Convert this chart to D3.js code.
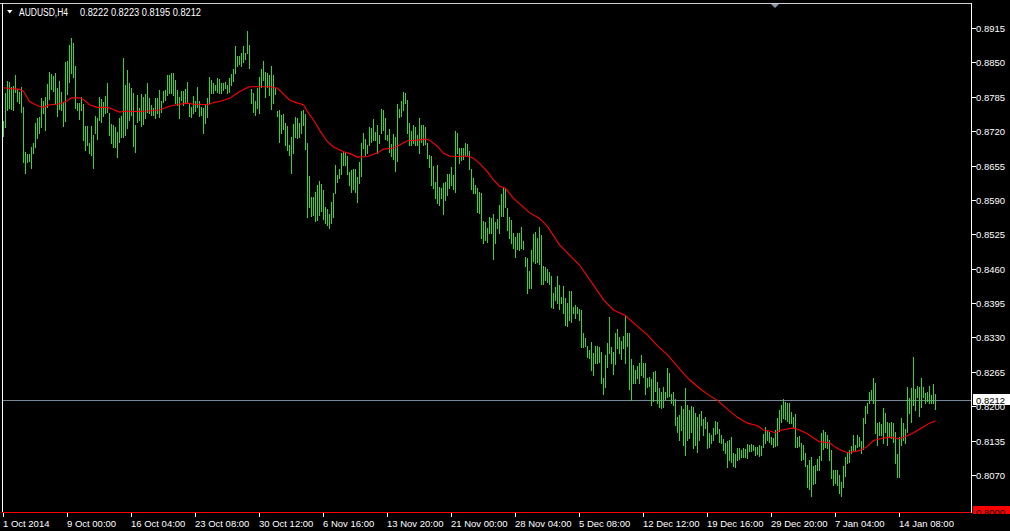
<!DOCTYPE html>
<html><head><meta charset="utf-8">
<script src="https://cdn.jsdelivr.net/npm/d3@7/dist/d3.min.js"></script>
<style>html,body{margin:0;padding:0;background:#000;overflow:hidden}svg{display:block}</style>
</head><body><svg id="c" width="1010" height="531"></svg>
<script>
// ---------------- data ----------------
const symbol = "AUDUSD,H4";
const lastOHLC = [0.8222, 0.8223, 0.8195, 0.8212];
const bottomPrice = 0.8000;
const topPrice = 0.89623;

const highs = [
0.8739,0.8792,0.8815,0.8813,0.8804,0.8806,0.8826,0.8800,0.8794,0.8804,
0.8766,0.8681,0.8677,0.8677,0.8690,0.8698,0.8736,0.8745,0.8747,0.8783,
0.8777,0.8785,0.8809,0.8832,0.8828,0.8824,0.8830,0.8802,0.8815,0.8794,
0.8775,0.8851,0.8853,0.8883,0.8896,0.8887,0.8843,0.8773,0.8773,0.8785,
0.8771,0.8730,0.8730,0.8698,0.8730,0.8713,0.8749,0.8745,0.8785,0.8781,
0.8775,0.8787,0.8811,0.8754,0.8734,0.8732,0.8728,0.8719,0.8745,0.8749,
0.8858,0.8807,0.8836,0.8811,0.8802,0.8792,0.8732,0.8788,0.8764,0.8790,
0.8785,0.8790,0.8811,0.8783,0.8770,0.8764,0.8783,0.8783,0.8798,0.8777,
0.8796,0.8798,0.8826,0.8826,0.8830,0.8830,0.8817,0.8798,0.8785,0.8796,
0.8796,0.8800,0.8813,0.8771,0.8766,0.8787,0.8777,0.8804,0.8777,0.8766,
0.8764,0.8771,0.8783,0.8822,0.8817,0.8811,0.8807,0.8821,0.8819,0.8811,
0.8811,0.8812,0.8807,0.8821,0.8828,0.8838,0.8881,0.8862,0.8862,0.8868,
0.8881,0.8868,0.8909,0.8883,0.8800,0.8792,0.8777,0.8802,0.8822,0.8838,
0.8853,0.8832,0.8830,0.8826,0.8843,0.8826,0.8802,0.8758,0.8760,0.8751,
0.8753,0.8736,0.8730,0.8694,0.8709,0.8734,0.8747,0.8745,0.8736,0.8758,
0.8760,0.8753,0.8698,0.8635,0.8596,0.8596,0.8605,0.8618,0.8626,0.8620,
0.8609,0.8577,0.8573,0.8564,0.8586,0.8603,0.8656,0.8637,0.8649,0.8679,
0.8681,0.8679,0.8673,0.8643,0.8647,0.8649,0.8649,0.8633,0.8662,0.8698,
0.8717,0.8705,0.8694,0.8728,0.8726,0.8743,0.8719,0.8732,0.8713,0.8762,
0.8760,0.8745,0.8713,0.8724,0.8696,0.8715,0.8709,0.8771,0.8762,0.8777,
0.8794,0.8792,0.8779,0.8736,0.8720,0.8732,0.8728,0.8713,0.8745,0.8732,
0.8732,0.8728,0.8698,0.8675,0.8673,0.8654,0.8624,0.8656,0.8615,0.8613,
0.8622,0.8624,0.8639,0.8639,0.8652,0.8637,0.8720,0.8717,0.8688,0.8688,
0.8688,0.8698,0.8696,0.8683,0.8649,0.8632,0.8618,0.8613,0.8605,0.8603,
0.8550,0.8548,0.8537,0.8558,0.8556,0.8564,0.8548,0.8554,0.8581,0.8601,
0.8613,0.8611,0.8575,0.8558,0.8552,0.8528,0.8520,0.8528,0.8528,0.8539,
0.8512,0.8482,0.8480,0.8456,0.8496,0.8526,0.8530,0.8518,0.8539,0.8524,
0.8465,0.8463,0.8460,0.8454,0.8446,0.8414,0.8426,0.8446,0.8429,0.8407,
0.8427,0.8405,0.8395,0.8418,0.8418,0.8388,0.8392,0.8388,0.8384,0.8382,
0.8339,0.8329,0.8314,0.8307,0.8322,0.8301,0.8314,0.8314,0.8312,0.8303,
0.8254,0.8297,0.8320,0.8369,0.8312,0.8303,0.8339,0.8346,0.8331,0.8323,
0.8333,0.8373,0.8339,0.8339,0.8290,0.8278,0.8269,0.8276,0.8282,0.8297,
0.8282,0.8282,0.8254,0.8256,0.8252,0.8265,0.8267,0.8246,0.8235,0.8227,
0.8237,0.8227,0.8272,0.8263,0.8223,0.8227,0.8214,0.8180,0.8184,0.8201,
0.8195,0.8235,0.8203,0.8193,0.8201,0.8199,0.8187,0.8180,0.8186,0.8191,
0.8176,0.8180,0.8170,0.8150,0.8146,0.8159,0.8172,0.8170,0.8157,0.8146,
0.8138,0.8131,0.8135,0.8136,0.8142,0.8112,0.8110,0.8121,0.8121,0.8118,
0.8121,0.8119,0.8129,0.8127,0.8129,0.8127,0.8123,0.8123,0.8127,0.8125,
0.8148,0.8161,0.8153,0.8152,0.8142,0.8140,0.8155,0.8178,0.8193,0.8203,
0.8214,0.8208,0.8206,0.8206,0.8189,0.8180,0.8186,0.8142,0.8144,0.8131,
0.8127,0.8112,0.8089,0.8099,0.8104,0.8087,0.8089,0.8100,0.8106,0.8150,
0.8155,0.8152,0.8146,0.8136,0.8118,0.8080,0.8080,0.8080,0.8070,0.8057,
0.8087,0.8104,0.8114,0.8118,0.8125,0.8146,0.8127,0.8146,0.8142,0.8135,
0.8178,0.8201,0.8206,0.8227,0.8231,0.8254,0.8244,0.8169,0.8170,0.8167,
0.8197,0.8187,0.8170,0.8169,0.8170,0.8169,0.8152,0.8110,0.8142,0.8178,
0.8169,0.8157,0.8237,0.8216,0.8235,0.8293,0.8233,0.8238,0.8237,0.8254,
0.8237,0.8225,0.8227,0.8238,0.8221,0.8242,0.8223];

const lows = [
0.8711,0.8728,0.8760,0.8764,0.8762,0.8760,0.8794,0.8777,0.8773,0.8756,
0.8662,0.8641,0.8662,0.8664,0.8650,0.8679,0.8690,0.8707,0.8717,0.8728,
0.8754,0.8722,0.8766,0.8781,0.8800,0.8796,0.8773,0.8749,0.8762,0.8760,
0.8730,0.8739,0.8790,0.8813,0.8830,0.8822,0.8764,0.8760,0.8743,0.8760,
0.8703,0.8684,0.8694,0.8679,0.8675,0.8650,0.8717,0.8705,0.8741,0.8737,
0.8749,0.8754,0.8756,0.8713,0.8698,0.8690,0.8690,0.8671,0.8700,0.8709,
0.8709,0.8713,0.8726,0.8741,0.8751,0.8692,0.8681,0.8737,0.8741,0.8730,
0.8734,0.8745,0.8756,0.8754,0.8751,0.8751,0.8745,0.8754,0.8747,0.8756,
0.8775,0.8779,0.8788,0.8792,0.8792,0.8788,0.8773,0.8770,0.8745,0.8779,
0.8770,0.8773,0.8775,0.8749,0.8747,0.8754,0.8758,0.8766,0.8749,0.8751,
0.8717,0.8736,0.8747,0.8773,0.8792,0.8792,0.8798,0.8794,0.8792,0.8792,
0.8798,0.8801,0.8792,0.8794,0.8807,0.8815,0.8830,0.8843,0.8847,0.8843,
0.8851,0.8856,0.8868,0.8839,0.8773,0.8756,0.8751,0.8764,0.8754,0.8804,
0.8817,0.8785,0.8804,0.8788,0.8762,0.8773,0.8790,0.8749,0.8700,0.8717,
0.8724,0.8694,0.8684,0.8675,0.8641,0.8679,0.8709,0.8707,0.8709,0.8717,
0.8732,0.8686,0.8558,0.8577,0.8560,0.8562,0.8550,0.8552,0.8562,0.8569,
0.8554,0.8547,0.8543,0.8537,0.8547,0.8558,0.8603,0.8624,0.8632,0.8639,
0.8656,0.8656,0.8639,0.8618,0.8605,0.8611,0.8605,0.8586,0.8622,0.8635,
0.8688,0.8675,0.8679,0.8694,0.8700,0.8703,0.8703,0.8679,0.8698,0.8717,
0.8722,0.8705,0.8703,0.8681,0.8673,0.8667,0.8645,0.8664,0.8747,0.8749,
0.8760,0.8773,0.8717,0.8694,0.8694,0.8698,0.8694,0.8694,0.8679,0.8700,
0.8694,0.8696,0.8669,0.8652,0.8618,0.8613,0.8594,0.8584,0.8581,0.8594,
0.8564,0.8590,0.8599,0.8613,0.8618,0.8611,0.8605,0.8679,0.8660,0.8666,
0.8668,0.8675,0.8675,0.8649,0.8611,0.8603,0.8603,0.8567,0.8565,0.8518,
0.8509,0.8514,0.8511,0.8528,0.8528,0.8478,0.8509,0.8537,0.8528,0.8560,
0.8560,0.8577,0.8533,0.8518,0.8509,0.8499,0.8482,0.8497,0.8495,0.8499,
0.8497,0.8465,0.8414,0.8424,0.8424,0.8475,0.8471,0.8473,0.8469,0.8431,
0.8431,0.8439,0.8435,0.8431,0.8388,0.8386,0.8401,0.8395,0.8384,0.8395,
0.8376,0.8354,0.8352,0.8363,0.8359,0.8376,0.8367,0.8376,0.8363,0.8312,
0.8312,0.8314,0.8293,0.8291,0.8269,0.8259,0.8282,0.8282,0.8284,0.8244,
0.8223,0.8237,0.8274,0.8301,0.8282,0.8261,0.8280,0.8310,0.8301,0.8290,
0.8310,0.8282,0.8314,0.8233,0.8212,0.8244,0.8244,0.8254,0.8244,0.8259,
0.8256,0.8223,0.8237,0.8238,0.8203,0.8210,0.8229,0.8206,0.8199,0.8197,
0.8199,0.8214,0.8218,0.8220,0.8206,0.8203,0.8165,0.8151,0.8136,0.8155,
0.8127,0.8108,0.8136,0.8140,0.8151,0.8121,0.8127,0.8114,0.8136,0.8165,
0.8146,0.8159,0.8121,0.8123,0.8131,0.8136,0.8148,0.8150,0.8133,0.8131,
0.8118,0.8112,0.8085,0.8099,0.8095,0.8087,0.8085,0.8099,0.8100,0.8104,
0.8104,0.8104,0.8102,0.8116,0.8116,0.8118,0.8108,0.8110,0.8106,0.8108,
0.8123,0.8131,0.8136,0.8133,0.8129,0.8123,0.8125,0.8127,0.8153,0.8170,
0.8178,0.8176,0.8172,0.8168,0.8168,0.8161,0.8123,0.8123,0.8125,0.8099,
0.8100,0.8087,0.8048,0.8044,0.8031,0.8053,0.8055,0.8080,0.8080,0.8099,
0.8119,0.8123,0.8121,0.8099,0.8065,0.8051,0.8055,0.8051,0.8036,0.8031,
0.8048,0.8068,0.8093,0.8095,0.8112,0.8118,0.8118,0.8123,0.8125,0.8112,
0.8119,0.8168,0.8187,0.8206,0.8214,0.8206,0.8150,0.8127,0.8146,0.8146,
0.8131,0.8152,0.8127,0.8142,0.8140,0.8133,0.8093,0.8066,0.8066,0.8127,
0.8136,0.8131,0.8152,0.8187,0.8170,0.8203,0.8193,0.8218,0.8182,0.8199,
0.8218,0.8206,0.8210,0.8206,0.8206,0.8206,0.8195];

// moving average, read at sampled bars
const maBars = [0,8,10,13,17,20,23,27,30,32,34,38,40,43,47,52,55,58,62,65,72,78,83,88,92,95,98,102,105,108,113,117,120,123,
133,137,140,143,147,150,152,155,158,162,165,170,173,177,182,187,190,195,198,202,207,211,213,217,220,223,227,232,235,238,242,245,248,
251,255,263,268,272,278,285,288,295,300,305,311,317,322,327,332,335,340,343,348,353,357,362,367,372,377,380,383,386,388,392,395,398,
402,405,408,413,415,418,422,425,428,432,435,438,442,445,447,450,455,460,463,466];
const maValues = [0.8802,0.8799,0.8795,0.8776,0.8768,0.8765,0.8770,0.8771,0.8774,0.8778,0.8783,0.8783,0.8780,0.8770,0.8765,0.8765,0.8761,0.8756,0.8758,0.8757,0.8758,0.8760,0.8767,0.8771,0.8773,0.8771,0.8771,0.8770,0.8774,0.8776,0.8782,0.8792,0.8799,0.8804,
0.8804,0.8801,0.8790,0.8779,0.8773,0.8770,0.8757,0.8741,0.8722,0.8700,0.8690,0.8681,0.8678,0.8671,0.8672,0.8679,0.8686,0.8688,0.8694,0.8702,0.8703,0.8705,0.8703,0.8691,0.8678,0.8673,0.8672,0.8673,0.8669,0.8659,0.8643,0.8628,0.8616,
0.8612,0.8593,0.8566,0.8555,0.8540,0.8505,0.8478,0.8467,0.8429,0.8401,0.8382,0.8371,0.8351,0.8335,0.8314,0.8297,0.8284,0.8262,0.8250,0.8234,0.8220,0.8211,0.8194,0.8179,0.8168,0.8163,0.8155,0.8153,0.8150,0.8154,0.8157,0.8159,0.8155,
0.8148,0.8140,0.8133,0.8131,0.8125,0.8118,0.8112,0.8114,0.8116,0.8124,0.8135,0.8138,0.8141,0.8141,0.8138,0.8141,0.8150,0.8161,0.8168,0.8172];

const priceTicks = [0.8915,0.8850,0.8785,0.8720,0.8655,0.8590,0.8525,0.8460,0.8395,0.8330,0.8265,0.8200,0.8135,0.8070];
const timeTickBars = [0,32,64,96,128,160,192,224,256,288,320,352,384,416,448];
const timeTickLabels = ["1 Oct 2014","9 Oct 00:00","16 Oct 04:00","23 Oct 08:00","30 Oct 12:00","6 Nov 16:00","13 Nov 20:00","21 Nov 00:00","28 Nov 04:00","5 Dec 08:00","12 Dec 12:00","19 Dec 16:00","29 Dec 20:00","7 Jan 04:00","14 Jan 08:00"];

// ---------------- drawing ----------------
const barColor = "#33d92a";
const font = "'Liberation Sans', Arial, sans-serif";
const svg = d3.select("#c");
svg.append("rect").attr("width",1010).attr("height",531).attr("fill","#000");

const plot = {left:2, right:971, top:3, bottom:512};
const x = d3.scaleLinear().domain([0, highs.length-1]).range([3.5, 3.5 + 2*(highs.length-1)]);
const y = d3.scaleLinear().domain([bottomPrice, topPrice]).range([plot.bottom, plot.top]);
const py = v => Math.round(y(v)) + 0.5;

// bid price line (behind bars)
svg.append("line").attr("x1",plot.left).attr("x2",plot.right).attr("y1",py(lastOHLC[3])).attr("y2",py(lastOHLC[3]))
  .attr("stroke","#778899").attr("stroke-width",1).attr("shape-rendering","crispEdges");

// bars (high-low)
svg.append("g").attr("shape-rendering","crispEdges").selectAll("line").data(highs).join("line")
  .attr("x1",(d,i)=>x(i)).attr("x2",(d,i)=>x(i))
  .attr("y1",d=>Math.round(y(d))).attr("y2",(d,i)=>Math.round(y(lows[i]))+1)
  .attr("stroke",barColor).attr("stroke-width",1);

// moving average
const ma = d3.line().x((d,k)=>x(maBars[k])).y(d=>y(d));
svg.append("path").datum(maValues).attr("d",ma).attr("fill","none")
  .attr("stroke","#ff0000").attr("stroke-width",1.1);

// bottom red line (0.8000)
svg.append("line").attr("x1",plot.left).attr("x2",plot.right).attr("y1",py(bottomPrice)).attr("y2",py(bottomPrice))
  .attr("stroke","#ff0000").attr("stroke-width",1).attr("shape-rendering","crispEdges");

// frame
const fr = svg.append("g").attr("stroke","#fff").attr("stroke-width",1).attr("shape-rendering","crispEdges");
fr.append("line").attr("x1",0).attr("x2",plot.right+1).attr("y1",plot.top+0.5).attr("y2",plot.top+0.5).attr("stroke","#d0d0d0");
fr.append("line").attr("x1",plot.left+0.5).attr("x2",plot.left+0.5).attr("y1",plot.top).attr("y2",plot.bottom);
fr.append("line").attr("x1",plot.right+0.5).attr("x2",plot.right+0.5).attr("y1",plot.top).attr("y2",plot.bottom+1);

// shift marker
svg.append("polygon").attr("points","771,4 779,4 775,8").attr("fill","#8899aa");

// price axis
const pa = svg.append("g");
pa.selectAll("line").data(priceTicks).join("line")
  .attr("x1",plot.right+1).attr("x2",plot.right+5).attr("y1",d=>py(d)).attr("y2",d=>py(d))
  .attr("stroke","#fff").attr("shape-rendering","crispEdges");
pa.selectAll("text").data(priceTicks).join("text")
  .attr("x",976).attr("y",d=>py(d)+3.5).text(d=>d.toFixed(4))
  .attr("fill","#fff").attr("font-family",font).attr("font-size","9.5px")
  .attr("textLength",29).attr("lengthAdjust","spacingAndGlyphs");

// current price label
const cy = py(lastOHLC[3]);
svg.append("rect").attr("x",973).attr("y",cy-6.5).attr("width",37).attr("height",11).attr("fill","#fff");
svg.append("text").attr("x",976).attr("y",cy+3.5).text(lastOHLC[3].toFixed(4))
  .attr("fill","#000").attr("font-family",font).attr("font-size","9.5px")
  .attr("textLength",29).attr("lengthAdjust","spacingAndGlyphs");

// bottom price label (clipped)
svg.append("clipPath").attr("id","bclip").append("rect").attr("x",972).attr("y",0).attr("width",40).attr("height",514);
const bl = svg.append("g").attr("clip-path","url(#bclip)");
const by = py(bottomPrice);
bl.append("rect").attr("x",973).attr("y",by-6.5).attr("width",37).attr("height",13).attr("fill","#ff0000");
bl.append("text").attr("x",976).attr("y",by+3.5).text(bottomPrice.toFixed(4))
  .attr("fill","#000").attr("font-family",font).attr("font-size","9.5px");

// time axis
const ta = svg.append("g");
ta.selectAll("line").data(timeTickBars).join("line")
  .attr("x1",d=>x(d)).attr("x2",d=>x(d)).attr("y1",513).attr("y2",517)
  .attr("stroke","#fff").attr("shape-rendering","crispEdges");
ta.selectAll("text").data(timeTickBars).join("text")
  .attr("x",d=>x(d)-0.5).attr("y",527).text((d,k)=>timeTickLabels[k])
  .attr("fill","#fff").attr("font-family",font).attr("font-size","9.5px");

// title
svg.append("polygon").attr("points","7,10 12.5,10 9.75,13.5").attr("fill","#fff");
svg.append("text").attr("x",19).attr("y",15.5).text(symbol)
  .attr("fill","#fff").attr("font-family",font).attr("font-size","10px")
  .attr("textLength",49).attr("lengthAdjust","spacingAndGlyphs");
svg.append("text").attr("x",80).attr("y",15.5).text(lastOHLC.map(v=>v.toFixed(4)).join(" "))
  .attr("fill","#fff").attr("font-family",font).attr("font-size","10px")
  .attr("textLength",121).attr("lengthAdjust","spacingAndGlyphs");
</script></body></html>
